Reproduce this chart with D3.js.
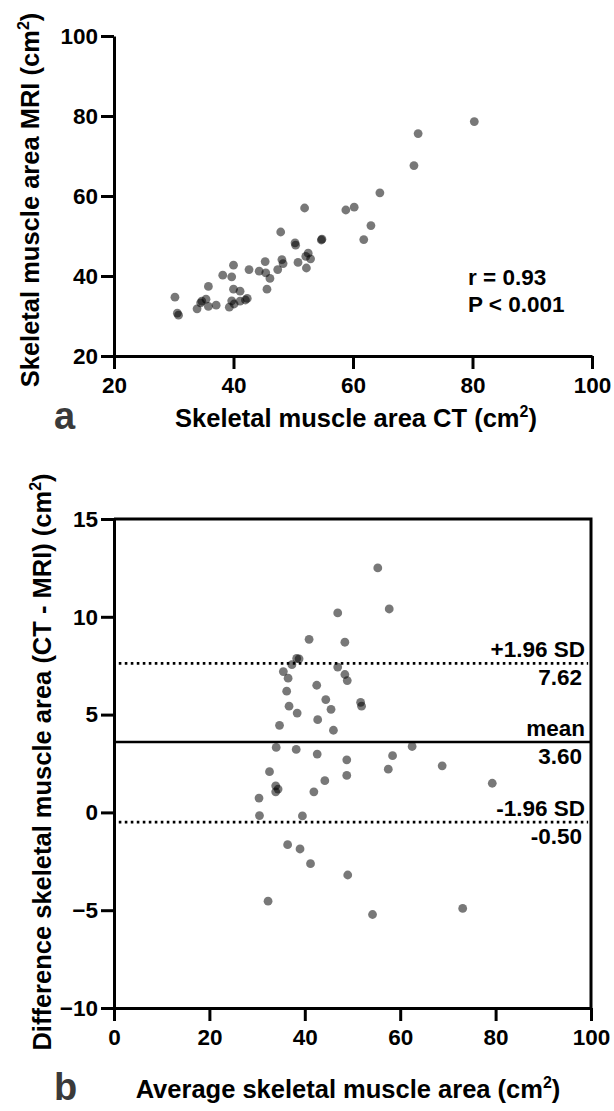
<!DOCTYPE html>
<html>
<head>
<meta charset="utf-8">
<script src="https://cdn.jsdelivr.net/npm/d3@7"></script>
<style>
  html, body { margin: 0; padding: 0; background: #fff; }
  svg text { font-family: "Liberation Sans", Arial, sans-serif; font-weight: bold; }
</style>
</head>
<body>
<div id="chart"></div>
<script>
// panel a: CT vs MRI skeletal muscle area (cm2)
const ctValues  = [30.2, 30.6, 30.8, 33.9, 34.7, 34.5, 35.4, 35.8, 35.8, 37.1, 38.2, 39.7, 40.0, 40.0, 41.1,
                   39.3, 39.7, 40.1, 41.1, 42.3, 42.0, 42.6, 44.3, 45.3, 45.4, 46.1, 45.6, 47.4, 47.9, 48.1,
                   48.3, 50.3, 50.4, 50.8, 51.9, 52.2, 52.1, 52.5, 52.9, 54.8, 54.7, 58.8, 60.2, 61.8, 63.0,
                   64.5, 70.2, 70.9, 80.3]
const mriValues = [34.7, 30.7, 30.2, 31.8, 33.7, 33.3, 34.2, 32.4, 37.4, 32.7, 40.2, 39.8, 42.7, 36.7, 36.2,
                   32.2, 33.8, 33.0, 33.7, 34.4, 34.0, 41.6, 41.2, 43.6, 40.8, 39.4, 36.7, 41.6, 51.0, 44.1,
                   43.1, 48.3, 47.7, 43.4, 57.0, 42.0, 44.9, 45.7, 44.3, 49.2, 49.0, 56.5, 57.2, 49.1, 52.6,
                   60.8, 67.6, 75.6, 78.6]

// panel b: Bland-Altman
const avgValues  = [55.3, 57.7, 46.9, 40.9, 48.4, 38.3, 38.8, 37.3, 46.9, 35.5, 48.4, 36.5, 48.9, 42.5, 36.2,
                    44.4, 51.7, 51.9, 36.7, 45.5, 38.4, 42.7, 34.7, 46.0, 62.5, 34.0, 38.2, 42.6, 58.4, 48.8,
                    68.8, 57.5, 32.6, 48.8, 44.2, 79.3, 33.9, 34.4, 33.9, 41.9, 30.4, 30.5, 39.5, 36.4, 39.0,
                    41.2, 49.0, 32.3, 54.2, 73.1]
const diffValues = [12.5, 10.4, 10.2, 8.85, 8.7, 7.87, 7.85, 7.55, 7.43, 7.2, 7.05, 6.86, 6.74, 6.5, 6.2,
                    5.77, 5.63, 5.43, 5.43, 5.27, 5.08, 4.74, 4.45, 4.2, 3.37, 3.32, 3.22, 2.98, 2.9, 2.69,
                    2.38, 2.21, 2.08, 1.89, 1.62, 1.49, 1.36, 1.19, 1.05, 1.05, 0.73, -0.16, -0.18, -1.65, -1.87,
                    -2.62, -3.2, -4.54, -5.22, -4.91]

const meanDiff = 3.60
const upperLoA = 7.62
const lowerLoA = -0.50

const ticksA = [20, 40, 60, 80, 100]
const ticksBx = [0, 20, 40, 60, 80, 100]
const ticksBy = [-10, -5, 0, 5, 10, 15]

const W = 614, H = 1111
const svg = d3.select('#chart').append('svg').attr('width', W).attr('height', H)

const AXIS_W = 3
const FONT = 22.5
const TITLE_FONT = 25.5

function styleAxis(g) {
  g.select('.domain').attr('stroke', '#000').attr('stroke-width', AXIS_W)
  g.selectAll('.tick line').attr('stroke', '#000').attr('stroke-width', AXIS_W)
  g.selectAll('.tick text').attr('fill', '#000').style('font-size', FONT + 'px')
}

function label(sel, x, y, main, rotate) {
  const t = sel.append('text')
    .attr('text-anchor', 'middle')
    .attr('fill', '#000')
    .style('font-size', TITLE_FONT + 'px')
  if (rotate) t.attr('transform', `translate(${x},${y}) rotate(-90)`)
  else t.attr('x', x).attr('y', y)
  t.append('tspan').text(main + ' (cm')
  t.append('tspan').text('2').style('font-size', '16px').attr('dy', -10)
  t.append('tspan').text(')').attr('dy', 10)
  return t
}

function dots(g, xs, ys, x, y) {
  g.append('g').selectAll('circle')
    .data(xs.map((v, i) => [v, ys[i]]))
    .join('circle')
    .attr('cx', d => x(d[0]))
    .attr('cy', d => y(d[1]))
    .attr('r', 4.4)
    .attr('fill', '#000')
    .attr('fill-opacity', 0.53)
}

// ── panel a ─────────────────────────────────────────────────
{
  const x = d3.scaleLinear().domain([20, 100]).range([114, 592])
  const y = d3.scaleLinear().domain([20, 100]).range([356, 36])
  const g = svg.append('g')

  g.append('g').attr('transform', 'translate(0,356)')
    .call(d3.axisBottom(x).tickValues(ticksA).tickSize(13).tickSizeOuter(0).tickPadding(8))
    .call(styleAxis)
  g.append('g').attr('transform', 'translate(114,0)')
    .call(d3.axisLeft(y).tickValues(ticksA).tickSize(13).tickSizeOuter(0).tickPadding(3))
    .call(styleAxis)

  dots(g, ctValues, mriValues, x, y)

  g.append('text').attr('x', 468).attr('y', 285).style('font-size', FONT + 'px').text('r = 0.93')
  g.append('text').attr('x', 468).attr('y', 312).style('font-size', FONT + 'px').text('P < 0.001')

  label(g, 356, 427, 'Skeletal muscle area CT')
  label(g, 39, 200, 'Skeletal muscle area MRI', true)

  g.append('text').attr('x', 54).attr('y', 429).attr('fill', '#3a3a3a')
    .style('font-size', '38px').text('a')
}

// ── panel b ─────────────────────────────────────────────────
{
  const x = d3.scaleLinear().domain([0, 100]).range([114, 591])
  const y = d3.scaleLinear().domain([-10, 15]).range([1008, 519])
  const g = svg.append('g')

  // frame top/right
  g.append('path')
    .attr('d', `M${x(0)},${y(15)}H${x(100)}V${y(-10)}`)
    .attr('fill', 'none').attr('stroke', '#000').attr('stroke-width', AXIS_W)

  g.append('g').attr('transform', `translate(0,${y(-10)})`)
    .call(d3.axisBottom(x).tickValues(ticksBx).tickSize(13).tickSizeOuter(0).tickPadding(8))
    .call(styleAxis)
  g.append('g').attr('transform', `translate(${x(0)},0)`)
    .call(d3.axisLeft(y).tickValues(ticksBy).tickSize(13).tickSizeOuter(0).tickPadding(3))
    .call(styleAxis)

  dots(g, avgValues, diffValues, x, y)

  g.append('line')
    .attr('x1', x(0)).attr('x2', x(100))
    .attr('y1', y(meanDiff)).attr('y2', y(meanDiff))
    .attr('stroke', '#000').attr('stroke-width', 2.5)

  ;[upperLoA, lowerLoA].forEach(v => {
    g.append('line')
      .attr('x1', x(1)).attr('x2', x(99.4))
      .attr('y1', y(v)).attr('y2', y(v))
      .attr('stroke', '#000').attr('stroke-width', 2.8)
      .attr('stroke-dasharray', '2.6,3.4')
  })

  const notes = [
    { v: upperLoA, top: '+1.96 SD', bottom: upperLoA.toFixed(2) },
    { v: meanDiff, top: 'mean', bottom: meanDiff.toFixed(2) },
    { v: lowerLoA, top: '-1.96 SD', bottom: lowerLoA.toFixed(2) },
  ]
  notes.forEach(n => {
    g.append('text').attr('x', 585).attr('y', y(n.v) - 6)
      .attr('text-anchor', 'end').style('font-size', FONT + 'px').text(n.top)
    g.append('text').attr('x', 582).attr('y', y(n.v) + 22)
      .attr('text-anchor', 'end').style('font-size', FONT + 'px').text(n.bottom)
  })

  label(g, 348, 1098, 'Average skeletal muscle area')
  label(g, 51, 762, 'Difference skeletal muscle area (CT - MRI)', true)

  g.append('text').attr('x', 54).attr('y', 1100).attr('fill', '#3a3a3a')
    .style('font-size', '38px').text('b')
}
</script>
</body>
</html>
